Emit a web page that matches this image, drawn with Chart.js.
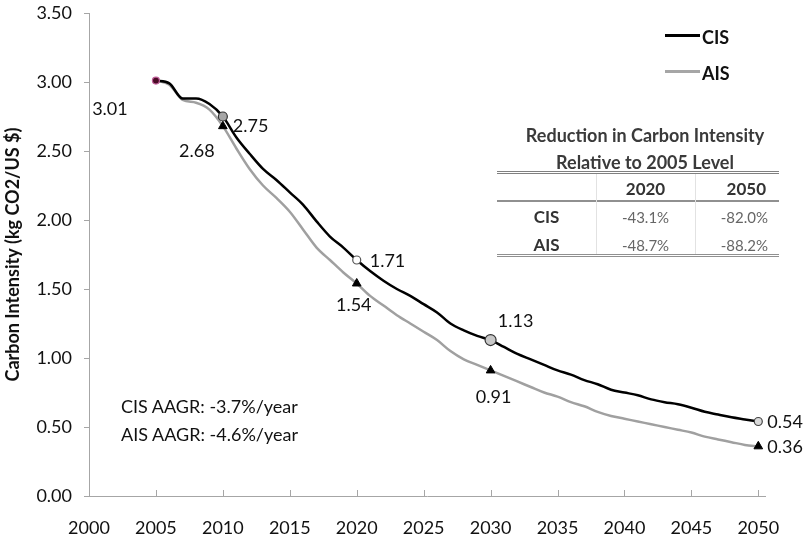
<!DOCTYPE html>
<html><head><meta charset="utf-8">
<script src="https://cdn.jsdelivr.net/npm/chart.js@4.4.0/dist/chart.umd.min.js"></script>
<style>
html,body{margin:0;padding:0;background:#fff;}
#wrap{position:relative;width:803px;height:543px;overflow:hidden;font-family:Lato,'Open Sans',sans-serif;}
canvas{position:absolute;left:0;top:0;}
.ov{position:absolute;white-space:nowrap;}
</style></head><body>
<div id="wrap"><canvas id="c" width="803" height="543"></canvas></div>
<script>
// ---------- data ----------
const years = [2005,2006,2007,2008,2009,2010,2011,2012,2013,2014,2015,2016,2017,2018,2019,2020,2021,2022,2023,2024,2025,2026,2027,2028,2029,2030,2031,2032,2033,2034,2035,2036,2037,2038,2039,2040,2041,2042,2043,2044,2045,2046,2047,2048,2049,2050];
const cisValues = [3.01,2.99,2.88,2.88,2.84,2.75,2.60,2.48,2.37,2.29,2.20,2.11,1.99,1.88,1.80,1.71,1.63,1.56,1.50,1.45,1.39,1.33,1.25,1.20,1.16,1.13,1.08,1.03,0.99,0.95,0.91,0.88,0.84,0.81,0.77,0.75,0.73,0.70,0.68,0.665,0.64,0.61,0.59,0.57,0.555,0.54];
const aisValues = [3.01,2.98,2.87,2.85,2.80,2.68,2.52,2.37,2.25,2.16,2.06,1.93,1.80,1.71,1.62,1.54,1.45,1.38,1.31,1.25,1.19,1.13,1.05,0.99,0.95,0.91,0.87,0.83,0.79,0.75,0.72,0.68,0.65,0.61,0.58,0.56,0.54,0.52,0.50,0.48,0.46,0.43,0.41,0.39,0.37,0.36];
const cisMarkerYears = [2005,2010,2020,2030,2050];
const cisMarkerValues = [3.01,2.75,1.71,1.13,0.54];
const aisMarkerYears = [2010,2020,2030,2050];
const aisMarkerValues = [2.68,1.54,0.91,0.36];
const xTickValues = [2000,2005,2010,2015,2020,2025,2030,2035,2040,2045,2050];
const yTickValues = [0,0.5,1,1.5,2,2.5,3,3.5];
const seriesNames = ['CIS','AIS'];
const aagrTexts = ['CIS AAGR: -3.7%/year','AIS AAGR: -4.6%/year'];
const tableTitle = ['Reduction in Carbon Intensity','Relative to 2005 Level'];
const tableCols = ['2020','2050'];
const tableRowNames = ['CIS','AIS'];
const tableCis = ['-43.1%','-82.0%'];
const tableAis = ['-48.7%','-88.2%'];

// ---------- styles ----------
const FONT = "Lato, 'Open Sans', sans-serif";
const cisMarkerStyle = {
  radius:[3.5,4.5,4,5.5,4],
  fill:['#4a0a25','#a6a6a6','#ffffff','#c8c8c8','#d9d9d9'],
  border:['#c0609a','#333333','#555555','#333333','#444444']
};
// label offsets (px) relative to the marker, and alignment
const cisLabelOff = [[-46,29,'center'],[10,10,'left'],[13,1,'left'],[25,-19,'center'],[9,1,'left']];
const aisLabelOff = [[-26,25,'center'],[-3,22,'center'],[3,27,'center'],[9,1,'left']];

const toXY = (xs, ys) => xs.map((x,i)=>({x:x,y:ys[i]}));

const labelPlugin = {
  id:'valueLabels',
  afterDatasetsDraw(chart){
    const ctx = chart.ctx, xs = chart.scales.x, ys = chart.scales.y;
    ctx.save();
    ctx.fillStyle = '#111';
    ctx.font = '18px ' + FONT;
    ctx.textBaseline = 'middle';
    cisMarkerYears.forEach((yr,i)=>{
      const o = cisLabelOff[i];
      ctx.textAlign = o[2];
      ctx.fillText(cisMarkerValues[i].toFixed(2), xs.getPixelForValue(yr)+o[0], ys.getPixelForValue(cisMarkerValues[i])+o[1]);
    });
    aisMarkerYears.forEach((yr,i)=>{
      const o = aisLabelOff[i];
      ctx.textAlign = o[2];
      ctx.fillText(aisMarkerValues[i].toFixed(2), xs.getPixelForValue(yr)+o[0], ys.getPixelForValue(aisMarkerValues[i])+o[1]);
    });
    // inward x tick marks
    ctx.strokeStyle = '#a6a6a6';
    ctx.lineWidth = 1;
    const yb = ys.getPixelForValue(0);
    xTickValues.slice(1).forEach(v=>{
      const px = Math.round(xs.getPixelForValue(v))+0.5;
      ctx.beginPath(); ctx.moveTo(px,yb); ctx.lineTo(px,yb-6); ctx.stroke();
    });
    ctx.restore();
  }
};

new Chart(document.getElementById('c'), {
  type:'line',
  data:{
    datasets:[
      {label:'CIS markers', data:toXY(cisMarkerYears,cisMarkerValues), showLine:false, order:0,
       pointStyle:'circle', pointRadius:cisMarkerStyle.radius, pointBackgroundColor:cisMarkerStyle.fill,
       pointBorderColor:cisMarkerStyle.border, pointBorderWidth:1.2},
      {label:'AIS markers', data:toXY(aisMarkerYears,aisMarkerValues), showLine:false, order:0,
       pointStyle:'triangle', pointRadius:5, pointBackgroundColor:'#000', pointBorderColor:'#000', pointBorderWidth:1},
      {label:seriesNames[0], data:toXY(years,cisValues), borderColor:'#000', borderWidth:2.5,
       pointRadius:0, cubicInterpolationMode:'monotone', order:1},
      {label:seriesNames[1], data:toXY(years,aisValues), borderColor:'#a0a0a0', borderWidth:2.5,
       pointRadius:0, cubicInterpolationMode:'monotone', order:2}
    ]
  },
  options:{
    responsive:false, animation:false,
    layout:{autoPadding:false, padding:{top:13,right:38,left:0,bottom:0}},
    plugins:{legend:{display:false}, tooltip:{enabled:false}},
    scales:{
      x:{type:'linear', min:2000, max:2050.5,
        afterBuildTicks(s){ s.ticks = xTickValues.map(v=>({value:v})); },
        afterFit(s){ s.height = 47; },
        grid:{display:true, drawOnChartArea:false, drawTicks:false, tickLength:0, color:'rgba(0,0,0,0)'},
        border:{display:true, color:'#a6a6a6', width:1},
        ticks:{padding:21, color:'#111', font:{family:FONT, size:18}, maxRotation:0, autoSkip:false,
          callback:(v)=>String(v)}
      },
      y:{min:0, max:3.5,
        afterBuildTicks(s){ s.ticks = yTickValues.map(v=>({value:v})); },
        afterFit(s){ s.width = 89; s.paddingTop = 0; s.paddingBottom = 0; },
        grid:{display:true, drawOnChartArea:false, drawTicks:true, tickLength:5, color:'#a6a6a6'},
        border:{display:true, color:'#a6a6a6', width:1},
        ticks:{padding:12, color:'#111', font:{family:FONT, size:18}, callback:(v)=>Number(v).toFixed(2)},
        title:{display:true, text:'Carbon Intensity (kg CO2/US $)', color:'#111',
          font:{family:FONT, size:18, weight:'bold'}, padding:{top:2,bottom:0}}
      }
    }
  },
  plugins:[labelPlugin]
});

// ---------- overlays: legend, AAGR notes, table ----------
const wrap = document.getElementById('wrap');
function add(html, css){ const d=document.createElement('div'); d.className='ov'; d.style.cssText=css; d.innerHTML=html; wrap.appendChild(d); return d; }
// legend
add('', 'left:665px;top:34px;width:35px;height:0;border-top:3px solid #000;');
add(seriesNames[0], 'left:702px;top:26px;font:bold 18px '+FONT+';color:#111;line-height:22px;');
add('', 'left:665px;top:70px;width:35px;height:0;border-top:3px solid #a6a6a6;');
add(seriesNames[1], 'left:702px;top:62px;font:bold 18px '+FONT+';color:#111;line-height:22px;');
// AAGR notes
add(aagrTexts[0], 'left:121px;top:395px;font:18px '+FONT+';color:#111;line-height:22px;');
add(aagrTexts[1], 'left:121px;top:423px;font:18px '+FONT+';color:#111;line-height:22px;');
// table
const TF = 'font-family:'+FONT+';';
add(tableTitle[0], 'left:495px;top:124px;width:300px;text-align:center;'+TF+'font-weight:bold;font-size:18px;color:#3a3a3a;line-height:22px;');
add(tableTitle[1], 'left:495px;top:151px;width:300px;text-align:center;'+TF+'font-weight:bold;font-size:18px;color:#3a3a3a;line-height:22px;');
add('', 'left:497px;top:171px;width:282px;height:0;border-top:3px double #808080;');
add('', 'left:497px;top:200px;width:282px;height:0;border-top:2px solid #909090;');
add('', 'left:497px;top:254px;width:282px;height:0;border-top:3px double #909090;');
add('', 'left:596px;top:174px;width:0;height:80px;border-left:1px solid #e2e2e2;');
add('', 'left:695px;top:174px;width:0;height:80px;border-left:1px solid #e2e2e2;');
add(tableCols[0], 'left:596px;top:178px;width:99px;text-align:center;'+TF+'font-weight:bold;font-size:17px;color:#333;line-height:22px;');
add(tableCols[1], 'left:695px;top:178px;width:71px;text-align:right;'+TF+'font-weight:bold;font-size:17px;color:#333;line-height:22px;');
const rowVals = [tableCis, tableAis];
[217,245].forEach((cy,r)=>{
  add(tableRowNames[r], 'left:497px;top:'+(cy-11)+'px;width:99px;text-align:center;'+TF+'font-weight:bold;font-size:17px;color:#333;line-height:22px;');
  add(rowVals[r][0], 'left:596px;top:'+(cy-11)+'px;width:99px;text-align:center;'+TF+'font-size:15px;color:#666;line-height:22px;');
  add(rowVals[r][1], 'left:695px;top:'+(cy-11)+'px;width:73px;text-align:right;'+TF+'font-size:15px;color:#666;line-height:22px;');
});
</script>
</body></html>
